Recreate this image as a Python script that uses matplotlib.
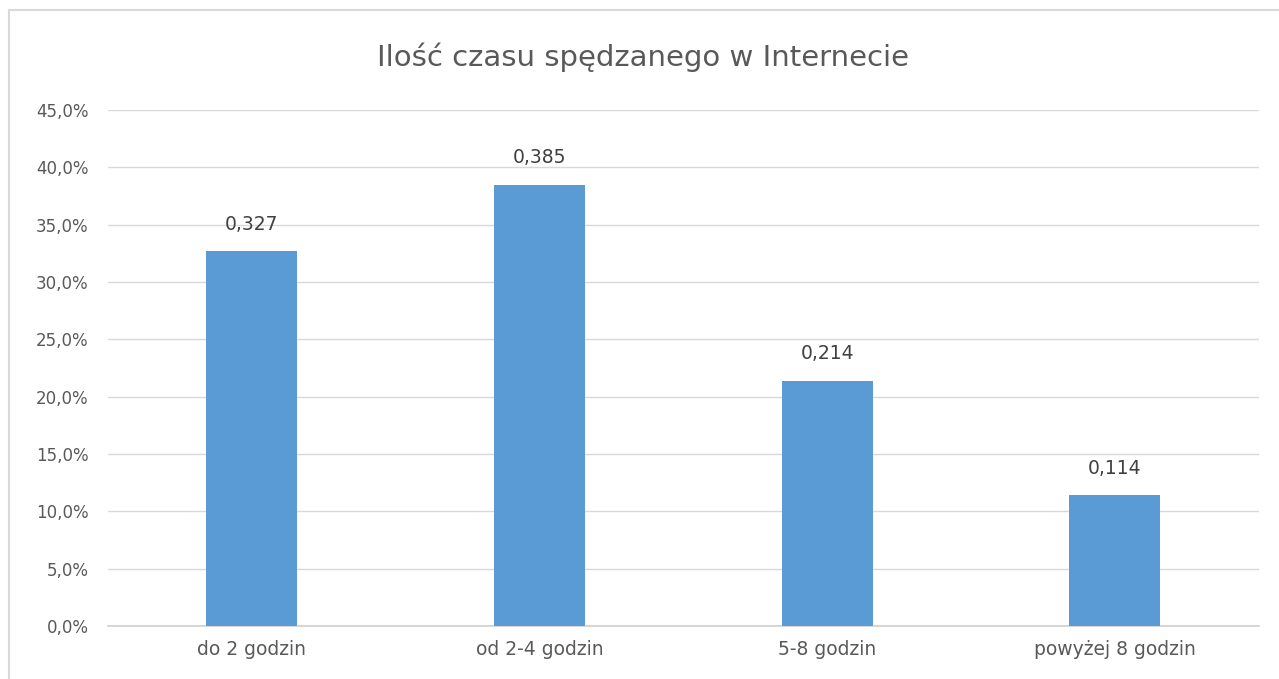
import matplotlib.pyplot as plt
from matplotlib.patches import Rectangle

# data
categories = ["do 2 godzin", "od 2-4 godzin", "5-8 godzin", "powyżej 8 godzin"]
shares = [0.327, 0.385, 0.214, 0.114]
y_ticks = [0.0, 0.05, 0.10, 0.15, 0.20, 0.25, 0.30, 0.35, 0.40, 0.45]
title = "Ilość czasu spędzanego w Internecie"

fig = plt.figure(figsize=(12.79, 6.79), dpi=100)
ax = fig.add_axes([0.0844, 0.078, 0.8996, 0.760])

x = range(len(categories))
ax.bar(x, shares, width=0.316, color="#5B9BD5", zorder=3)

for xi, v in zip(x, shares):
    ax.text(xi, v + 0.015, f"{v:.3f}".replace(".", ","), ha="center", va="bottom",
            fontsize=13.5, color="#404040")

ax.set_xlim(-0.5, len(categories) - 0.5)
ax.set_ylim(0, 0.45)
ax.set_yticks(y_ticks)
ax.set_yticklabels([f"{t * 100:.1f}%".replace(".", ",") for t in y_ticks])
ax.set_xticks(list(x))
ax.set_xticklabels(categories, fontsize=13.5)
ax.tick_params(axis="both", length=0, labelsize=12, labelcolor="#595959")
ax.tick_params(axis="x", pad=10, labelsize=13.5)
ax.tick_params(axis="y", pad=14)
ax.grid(axis="y", color="#D9D9D9", linewidth=1, zorder=0)

for s in ["top", "right", "left"]:
    ax.spines[s].set_visible(False)
ax.spines["bottom"].set_color("#D0D0D0")
ax.spines["bottom"].set_linewidth(1.2)

fig.text(0.503, 0.915, title, ha="center", va="center", fontsize=21, color="#595959")

# light frame around the chart
fig.patches.append(Rectangle((0.007, -0.01), 1.0, 0.996, transform=fig.transFigure,
                             fill=False, edgecolor="#D9D9D9", linewidth=1.5))

fig.savefig("out.png", dpi=100)
